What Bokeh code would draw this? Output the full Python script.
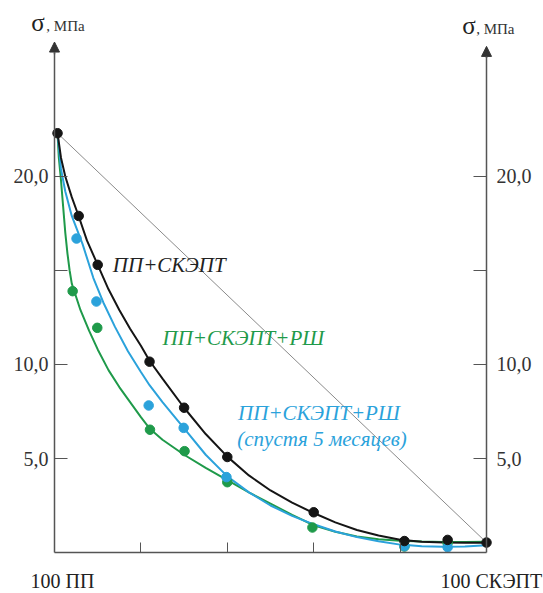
from bokeh.plotting import figure
from bokeh.models import LinearAxis, FixedTicker, Label, Arrow, NormalHead, Range1d
from bokeh.embed import file_html
from bokeh.resources import INLINE

# ---- data ----
# composition: % СКЭПТ in the blend (0 = 100 ПП, 100 = 100 СКЭПТ); sigma in MPa
black_x = [0.7, 5.6, 10, 22, 30, 40, 60, 81, 91, 100]
black_y = [22.3, 17.9, 15.3, 10.15, 7.7, 5.08, 2.14, 0.61, 0.67, 0.53]

blue_x = [5.1, 9.7, 21.8, 29.9, 39.8, 81, 91]
blue_y = [16.7, 13.35, 7.82, 6.63, 4.01, 0.34, 0.28]

green_x = [4.2, 9.9, 22.1, 30.1, 40, 59.7, 81, 91]
green_y = [13.9, 11.95, 6.53, 5.39, 3.74, 1.33, 0.32, 0.51]

# fitted curves as drawn in the picture
black_curve_x = [0.7, 1.5, 2.5, 4, 5.5, 7.5, 10, 12.5, 15, 17.5, 20, 22, 25, 30, 35, 40, 45, 50, 55, 60, 65, 70, 75, 80, 85, 90, 95, 100]
black_curve_y = [22.3, 21.0, 20.0, 18.9, 17.95, 16.6, 15.3, 14.0, 12.9, 11.9, 11.0, 10.2, 9.25, 7.7, 6.3, 5.1, 4.1, 3.3, 2.65, 2.1, 1.6, 1.2, 0.9, 0.68, 0.57, 0.53, 0.52, 0.52]

blue_curve_x = [0.7, 1.5, 2.5, 4, 6.5, 9, 11.3, 14, 17, 20, 22, 25, 30, 35, 40, 45, 50, 55, 60, 65, 70, 75, 80, 85, 90, 95, 100]
blue_curve_y = [22.3, 20.4, 19.2, 17.9, 16.4, 14.6, 13.3, 12.0, 10.7, 9.6, 8.9, 8.0, 6.6, 5.2, 4.05, 3.2, 2.5, 1.95, 1.5, 1.12, 0.82, 0.6, 0.42, 0.33, 0.3, 0.32, 0.38]

green_curve_x = [0.7, 1.0, 1.5, 2.0, 2.5, 3.0, 3.5, 4, 6, 8, 10, 12.5, 15, 17.5, 20, 22, 25, 30, 35, 40, 45, 50, 55, 60, 65, 70, 75, 80, 85, 90, 95, 100]
green_curve_y = [22.3, 21.0, 19.8, 18.4, 17.0, 15.9, 15.0, 14.3, 12.9, 11.8, 10.8, 9.7, 8.8, 8.0, 7.2, 6.6, 6.0, 5.2, 4.5, 3.85, 3.2, 2.6, 2.0, 1.45, 1.1, 0.85, 0.7, 0.62, 0.58, 0.56, 0.56, 0.57]

additive_x = [0.7, 100]
additive_y = [22.3, 0.53]

y_ticks = [5, 10, 15, 20]
y_tick_labels = ["5,0", "10,0", "", "20,0"]
x_ticks = [20, 40, 60, 80]
x_end_labels = ["100 ПП", "100 СКЭПТ"]
series_labels = ["ПП+СКЭПТ", "ПП+СКЭПТ+РШ", "ПП+СКЭПТ+РШ", "(спустя 5 месяцев)"]

BLACK = "#151515"
BLUE = "#2ba2db"
GREEN = "#1f9a4a"
AXIS = "#555555"
FONT = "Liberation Serif, serif"

# frame covers the whole canvas; axes are placed at fixed data locations
p = figure(width=543, height=593, output_backend="svg", toolbar_location=None,
           x_range=Range1d(-12.5, 113.19), y_range=Range1d(-2.18, 29.36),
           min_border=0, x_axis_location=None, y_axis_location=None)
p.outline_line_color = None
p.grid.visible = False
p.background_fill_color = "white"

label_map = {t: l for t, l in zip(y_ticks, y_tick_labels)}

left_ax = LinearAxis(fixed_location=0, bounds=(0, 26.6), ticker=FixedTicker(ticks=y_ticks),
                     major_label_overrides=label_map, major_tick_in=13, major_tick_out=0,
                     minor_tick_line_color=None, axis_line_color=AXIS, axis_line_width=1.5,
                     major_tick_line_color=AXIS, major_label_standoff=6,
                     major_label_text_font=FONT, major_label_text_font_size="20px",
                     major_label_text_color="#333333")
p.add_layout(left_ax, "left")

right_ax = LinearAxis(fixed_location=100, bounds=(0, 26.4), ticker=FixedTicker(ticks=y_ticks),
                      major_label_overrides=label_map, major_tick_in=13, major_tick_out=0,
                      minor_tick_line_color=None, axis_line_color=AXIS, axis_line_width=1.5,
                      major_tick_line_color=AXIS, major_label_standoff=10,
                      major_label_text_font=FONT, major_label_text_font_size="20px",
                      major_label_text_color="#333333")
p.add_layout(right_ax, "right")

bottom_ax = LinearAxis(fixed_location=0, bounds=(0, 100), ticker=FixedTicker(ticks=x_ticks),
                       major_label_overrides={t: "" for t in x_ticks}, major_tick_in=10,
                       major_tick_out=0, minor_tick_line_color=None, axis_line_color=AXIS,
                       axis_line_width=1.5, major_tick_line_color=AXIS,
                       major_label_text_font_size="1px")
p.add_layout(bottom_ax, "below")

# arrow heads on the vertical axes
for xv, y0, y1 in [(0, 26.5, 27.15), (100, 26.3, 26.92)]:
    p.add_layout(Arrow(end=NormalHead(size=10, fill_color="#333333", line_color="#333333"),
                       x_start=xv, y_start=y0, x_end=xv, y_end=y1,
                       line_color=AXIS, line_width=1.5))

# additive straight line
p.line(additive_x, additive_y, line_color="#8a8a8a", line_width=1)

# curves
p.line(green_curve_x, green_curve_y, line_color=GREEN, line_width=2)
p.line(blue_curve_x, blue_curve_y, line_color=BLUE, line_width=2)
p.line(black_curve_x, black_curve_y, line_color=BLACK, line_width=2)

# points
p.scatter(green_x, green_y, size=9.5, fill_color=GREEN, line_color=GREEN)
p.scatter(blue_x, blue_y, size=9.5, fill_color=BLUE, line_color=BLUE)
p.scatter(black_x, black_y, size=9.5, fill_color=BLACK, line_color=BLACK)

# series annotations
for txt, xv, yv, col in [(series_labels[0], 13.5, 15.3, "#222222"),
                         (series_labels[1], 25.0, 11.4, GREEN),
                         (series_labels[2], 42.5, 7.4, BLUE),
                         (series_labels[3], 42.3, 6.05, BLUE)]:
    p.add_layout(Label(x=xv, y=yv, text=txt, text_font=FONT, text_font_style="italic",
                       text_font_size="21px", text_color=col, text_baseline="middle",
                       text_align="left"))

# axis titles
for xv, xv2, yv in [(-3.8, -1.9, 28.19), (95.95, 97.6, 28.05)]:
    p.add_layout(Label(x=xv, y=yv, text="σ", text_font=FONT, text_font_size="25px",
                       text_color="#222222", text_baseline="middle", text_align="center"))
    p.add_layout(Label(x=xv2, y=yv - 0.2, text=", МПа", text_font=FONT, text_font_size="15px",
                       text_color="#333333", text_baseline="middle", text_align="left"))

# composition end labels
p.add_layout(Label(x=-5.56, y=-1.49, text=x_end_labels[0], text_font=FONT, text_font_size="20px",
                   text_color="#222222", text_baseline="middle", text_align="left"))
p.add_layout(Label(x=112.9, y=-1.49, text=x_end_labels[1], text_font=FONT, text_font_size="20px",
                   text_color="#222222", text_baseline="middle", text_align="right"))

open("out.html", "w").write(file_html(p, INLINE))
